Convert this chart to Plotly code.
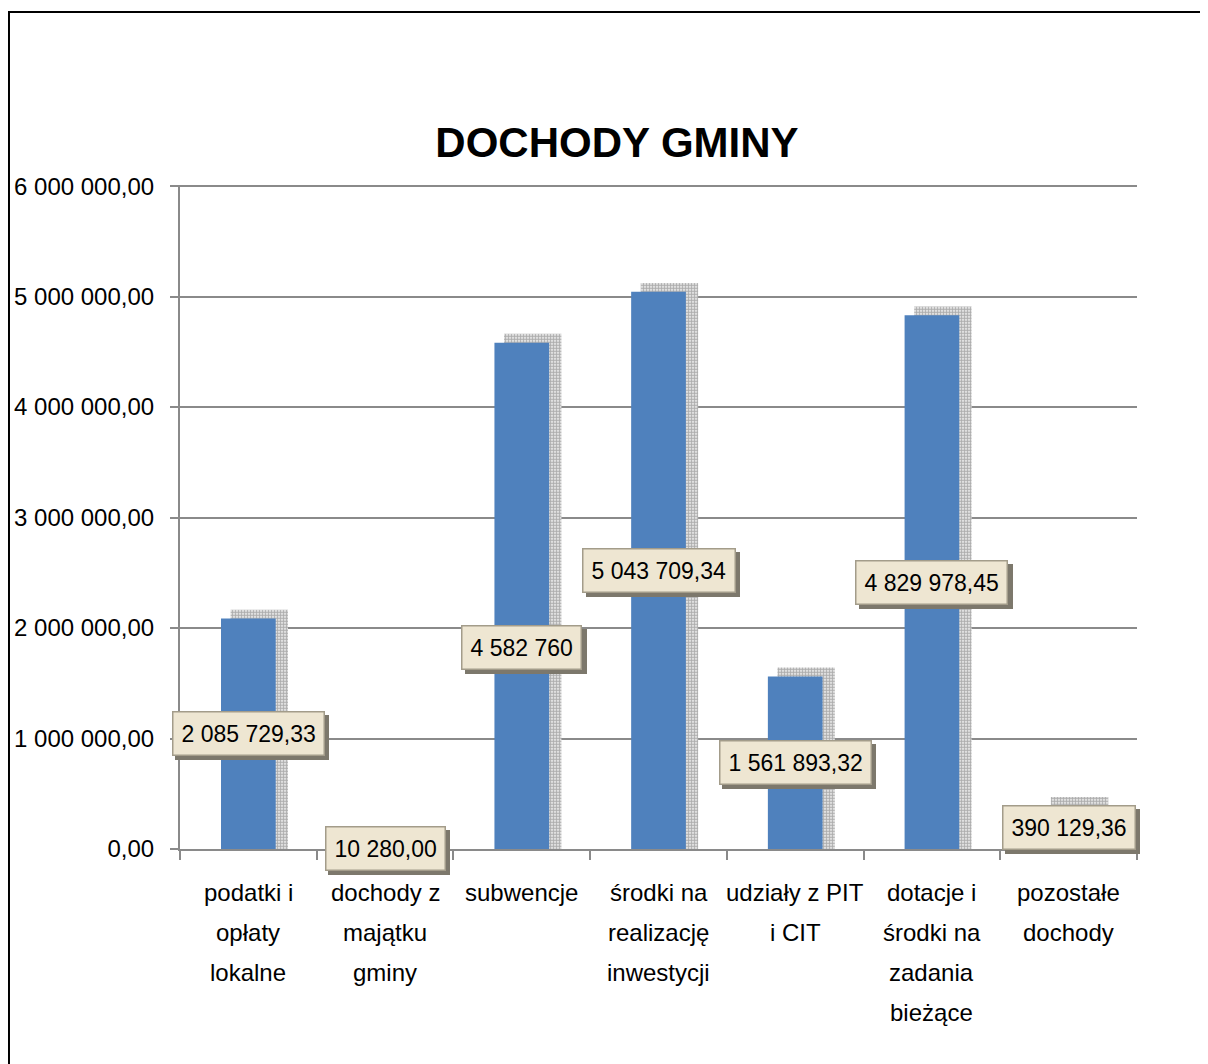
import plotly.graph_objects as go

CATEGORIES = [
    "podatki i<br>opłaty<br>lokalne",
    "dochody z<br>majątku<br>gminy",
    "subwencje",
    "środki na<br>realizację<br>inwestycji",
    "udziały z PIT<br>i CIT",
    "dotacje i<br>środki na<br>zadania<br>bieżące",
    "pozostałe<br>dochody",
]
VALUES = [2085729.33, 10280.00, 4582760.00, 5043709.34, 1561893.32, 4829978.45, 390129.36]
LABELS = ["2 085 729,33", "10 280,00", "4 582 760", "5 043 709,34",
          "1 561 893,32", "4 829 978,45", "390 129,36"]
Y_TICKS = [0, 1000000, 2000000, 3000000, 4000000, 5000000, 6000000]

FONT = "Liberation Sans, Arial, sans-serif"
LABEL_SIZE = 23
BAR_COLOR = "#4F81BD"
GRID = "#8A8A8A"
BOX_BG = "#EEE6D2"
BOX_BORDER = "#A39C8A"
BOX_SHADOW = "#7D786C"

# etykieta 3. słupka przesunięta ręcznie w dół (jak w oryginale)
LABEL_SHIFT = {2: -52}


def text_width(s: str) -> float:
    """Przybliżona szerokość tekstu (Liberation Sans) w px."""
    return sum(0.556 if c.isdigit() else 0.278 for c in s) * LABEL_SIZE


fig = go.Figure()

# cień słupków (kropkowany, przesunięty w prawo/w górę)
fig.add_trace(go.Bar(
    x=CATEGORIES,
    y=[v + 80000 for v in VALUES],
    width=0.42,
    offset=-0.13,
    marker=dict(
        color="white",
        line=dict(width=0),
        pattern=dict(shape=".", fgcolor="#5E5E5E", bgcolor="white", size=3, solidity=0.7),
    ),
    hoverinfo="skip",
    showlegend=False,
))

fig.add_trace(go.Bar(
    x=CATEGORIES,
    y=VALUES,
    width=0.4,
    offset=-0.2,
    marker=dict(color=BAR_COLOR, line=dict(width=0)),
    showlegend=False,
))

# etykiety danych (ramka + cień)
for i, (cat, val, lab) in enumerate(zip(CATEGORIES, VALUES, LABELS)):
    shift = LABEL_SHIFT.get(i, 0)
    common = dict(x=cat, y=val / 2, xref="x", yref="y", showarrow=False,
                  borderpad=8, borderwidth=1.5)
    fig.add_annotation(text=" ", width=text_width(lab) + 1, height=26,
                       xshift=4, yshift=shift - 4,
                       bgcolor=BOX_SHADOW, bordercolor=BOX_SHADOW, **common)
    fig.add_annotation(text=lab, yshift=shift, bgcolor=BOX_BG, bordercolor=BOX_BORDER,
                       font=dict(family=FONT, size=LABEL_SIZE, color="black"), **common)

# podpisy kategorii - linia po linii (interlinia jak w oryginale)
for cat in CATEGORIES:
    for k, line in enumerate(cat.split("<br>")):
        fig.add_annotation(text=line, x=cat, xref="x", y=0, yref="paper",
                           yanchor="middle", yshift=-43 - 40 * k, showarrow=False,
                           font=dict(family=FONT, size=24, color="black"))

# ramka wykresu
fig.add_shape(type="rect", xref="paper", yref="paper",
              x0=-0.1787, x1=1.2, y0=-0.5, y1=1.2605,
              line=dict(color="black", width=2), fillcolor="rgba(0,0,0,0)", layer="below")

fig.update_layout(
    width=1200,
    height=1056,
    margin=dict(l=172, r=71, t=177, b=215),
    paper_bgcolor="white",
    plot_bgcolor="white",
    barmode="overlay",
    separators=", ",
    font=dict(family=FONT, size=24, color="black"),
    title=dict(text="<b>DOCHODY GMINY</b>", x=0.5075, xanchor="center",
               y=0.873, yanchor="middle", font=dict(family=FONT, size=42, color="black")),
    xaxis=dict(
        type="category",
        range=[-0.5, 6.5],
        showgrid=False,
        showline=True, linecolor=GRID, linewidth=2,
        ticks="outside", tickson="boundaries", ticklen=9, tickwidth=2, tickcolor=GRID,
        showticklabels=False,
        automargin=False,
    ),
    yaxis=dict(
        range=[0, 6010000],
        tickvals=Y_TICKS,
        tickformat=",.2f",
        showgrid=True, gridcolor=GRID, gridwidth=2,
        showline=True, linecolor=GRID, linewidth=2,
        ticks="outside", ticklen=8, tickwidth=2, tickcolor=GRID,
        tickfont=dict(family=FONT, size=24),
        ticklabelstandoff=11,
        zeroline=False,
        automargin=False,
    ),
)

fig.write_html("out.html")
